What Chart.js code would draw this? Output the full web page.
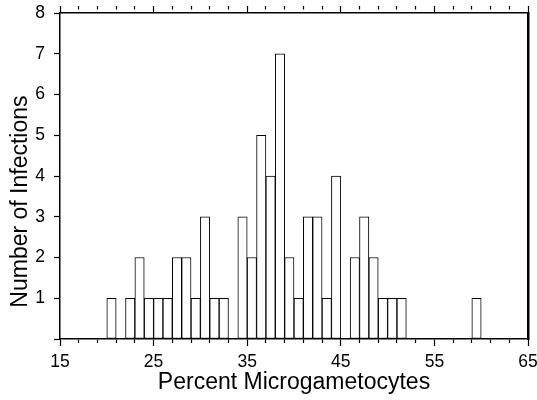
<!DOCTYPE html>
<html>
<head>
<meta charset="utf-8">
<script src="https://cdn.jsdelivr.net/npm/chart.js@4/dist/chart.umd.min.js"></script>
<style>
  html, body { margin: 0; padding: 0; background: #fff; }
  #wrap { width: 537px; height: 400px; }
</style>
</head>
<body>
<div id="wrap"><canvas id="hist" width="537" height="400"></canvas></div>
<script>
// bins are 1 percent wide, value = left edge of the bin
const binStarts = [20, 21, 22, 23, 24, 25, 26, 27, 28, 29,
                   30, 31, 32, 33, 34, 35, 36, 37, 38, 39,
                   40, 41, 42, 43, 44, 45, 46, 47, 48, 49,
                   50, 51, 52, 53, 54, 55, 56, 57, 58, 59]
const infections = [1, 0, 1, 2, 1, 1, 1, 2, 2, 1,
                    3, 1, 1, 0, 3, 2, 5, 4, 7, 2,
                    1, 3, 3, 1, 4, 0, 2, 3, 2, 1,
                    1, 1, 0, 0, 0, 0, 0, 0, 0, 1]

const xTickValues = [15, 17, 19, 21, 23, 25, 27, 29, 31, 33, 35, 37, 39,
                     41, 43, 45, 47, 49, 51, 53, 55, 57, 59, 61, 63, 65]
const xTickLabels = [15, 25, 35, 45, 55, 65]
const yTickLabels = [1, 2, 3, 4, 5, 6, 7, 8]

const font = 'Liberation Sans'

const histData = binStarts.map((b, i) => ({ x: b + 0.5, y: infections[i] }))

function setTicks(values) {
  return function (scale) {
    scale.ticks = values.map(v => ({ value: v }))
  }
}

// long tick on labelled values, short one elsewhere
function tickDash(ctx) {
  if (!ctx.tick) return []
  return xTickLabels.includes(ctx.tick.value) ? [] : [3.5, 20]
}

const config = {
  type: 'bar',
  data: {
    datasets: [{
      data: histData,
      backgroundColor: '#ffffff',
      borderColor: '#000000',
      borderWidth: 1,
      borderSkipped: false,
      barPercentage: 1,
      categoryPercentage: 1
    }]
  },
  options: {
    responsive: false,
    animation: false,
    layout: { padding: 0 },
    plugins: { legend: { display: false }, tooltip: { enabled: false } },
    scales: {
      x: {
        type: 'linear',
        position: 'bottom',
        min: 15,
        max: 65,
        offset: false,
        afterBuildTicks: setTicks(xTickValues),
        afterFit: function (s) { s.height = 61; s.paddingLeft = 0; s.paddingRight = 0 },
        grid: { drawOnChartArea: false, offset: false, tickLength: 7, tickColor: '#000', tickWidth: 1.2, tickBorderDash: tickDash },
        border: { color: '#000', width: 1.5 },
        ticks: {
          autoSkip: false,
          maxRotation: 0,
          padding: 6,
          color: '#000',
          font: { family: font, size: 17.5 },
          callback: function (v) { return xTickLabels.includes(v) ? String(v) : '' }
        },
        title: {
          display: true,
          text: 'Percent Microgametocytes',
          color: '#000',
          font: { family: font, size: 23 },
          padding: { top: 0, bottom: 4 }
        }
      },
      xTop: {
        type: 'linear',
        position: 'top',
        min: 15,
        max: 65,
        offset: false,
        afterBuildTicks: setTicks(xTickValues),
        afterFit: function (s) { s.height = 13; s.paddingLeft = 0; s.paddingRight = 0 },
        grid: { drawOnChartArea: false, offset: false, tickLength: 7, tickColor: '#000', tickWidth: 1.2, tickBorderDash: tickDash },
        border: { color: '#000', width: 1.5 },
        ticks: { display: false }
      },
      y: {
        min: 0,
        max: 8,
        afterBuildTicks: setTicks([0].concat(yTickLabels)),
        afterFit: function (s) { s.width = 60; s.paddingTop = 0; s.paddingBottom = 0 },
        grid: { drawOnChartArea: false, tickLength: 6, tickColor: '#000', tickWidth: 1.2 },
        border: { color: '#000', width: 1.5 },
        ticks: {
          padding: 9,
          color: '#000',
          font: { family: font, size: 17.5 },
          callback: function (v) { return v === 0 ? '' : String(v) }
        },
        title: {
          display: true,
          // trailing spaces push the title a bit below the axis middle, as in the original
          text: 'Number of Infections        ',
          color: '#000',
          font: { family: font, size: 23 },
          padding: { top: 7, bottom: 0 }
        }
      },
      y2: {
        position: 'right',
        min: 0,
        max: 8,
        afterFit: function (s) { s.width = 9; s.paddingTop = 0; s.paddingBottom = 0 },
        grid: { drawOnChartArea: false, drawTicks: false },
        border: { color: '#000', width: 2.5 },
        ticks: { display: false }
      }
    }
  }
}

const histChart = new Chart(document.getElementById('hist'), config)
</script>
</body>
</html>
